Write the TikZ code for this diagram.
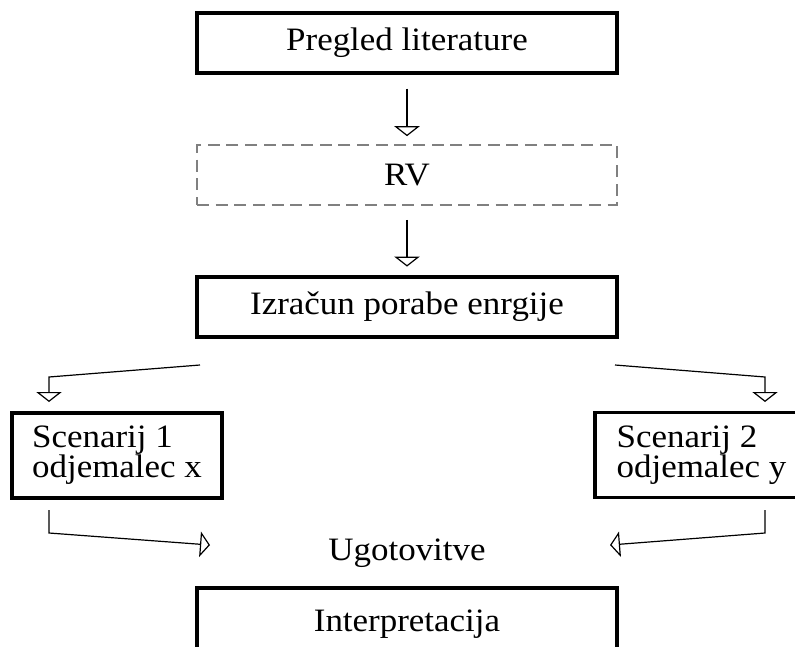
\documentclass[tikz,border=0pt]{standalone}
\usepackage{fontspec}
\setmainfont{Liberation Serif}[FakeStretch=1.07]
\usetikzlibrary{arrows.meta}

\newcommand\boxfont{\fontsize{24.5}{22.5}\selectfont\lineskiplimit-100pt\relax}

\tikzset{every picture/.style={line width=0.75pt}}
\tikzset{
  txt/.style={font=\boxfont, inner sep=0pt},
  box/.style={txt, draw, line width=2.6pt, minimum width=315pt},
  rvbox/.style={txt, draw={rgb,255:red,128;green,128;blue,128}, line width=1.2pt,
    dash pattern=on 9pt off 5pt, minimum width=315pt},
  scenbox/.style={box, align=left, minimum height=64pt},
  arr/.style={line width=0.9pt, -{Triangle[open, width=19pt, length=7.5pt, line width=0.9pt]}}
}

\begin{document}
\begin{tikzpicture}[x=0.75pt,y=0.75pt,yscale=-1,xscale=1]
\clip (0,0) rectangle (795,646);

%Shape: Rectangle
\node [box, minimum height=45pt] (pregled) at (407,43) {Pregled literature};
%Shape: Rectangle (dashed)
\node [rvbox, minimum height=45pt] (rv) at (407,175) {RV};
%Shape: Rectangle
\node [box, minimum height=45pt] (izracun) at (407,307) {Izračun porabe enrgije};
%Shape: Rectangle
\node [scenbox, minimum width=157.5pt] (scen1) at (117,455.5) {Scenarij 1\\odjemalec x};
%Shape: Rectangle
\node [scenbox, minimum width=160pt] (scen2) at (701.5,455) {Scenarij 2\\odjemalec y};
% Text Node
\node [txt] (ugot) at (407,553) {Ugotovitve};
%Shape: Rectangle
\node [box, minimum height=54pt] (interp) at (407,624) {Interpretacija};

% free ends of the split and join lines
\coordinate (splitL) at (200,365);
\coordinate (splitR) at (615,365);
\coordinate (joinL) at (210,545);
\coordinate (joinR) at (610,545);

%Straight Lines
\draw [arr, shorten <=10.5pt, shorten >=6pt] (pregled) -- (rv);
\draw [arr, shorten <=10.5pt, shorten >=6.5pt] (rv) -- (izracun);
\draw [arr] (splitL) -- (49,377) -- (49,402);
\draw [arr] (splitR) -- (765,377) -- (765,402);
\draw [arr] (49,510) -- (49,533) -- (joinL);
\draw [arr] (765,510) -- (765,533) -- (joinR);

\end{tikzpicture}
\end{document}
